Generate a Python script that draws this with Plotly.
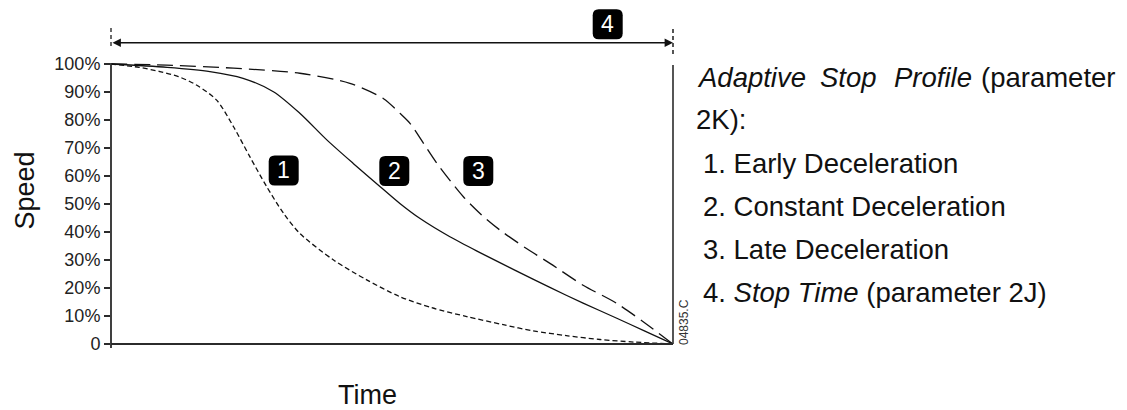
import plotly.graph_objects as go

# ---------------- data ----------------
time_early = [0, 5, 8.7, 12, 15.2, 18.8, 21.8, 24.7, 27.7, 30.7, 33.6, 39.6, 45.5, 51.4, 57, 63.3, 70, 75.1, 81, 87, 93, 100]
speed_early = [100, 98.8, 97.3, 95.5, 92.5, 87.1, 77.6, 66.9, 56.2, 46.7, 39.5, 30, 22.9, 16.9, 13, 9.8, 6.8, 4.7, 3, 1.6, 0.7, 0]

time_constant = [0, 10, 17.6, 23.5, 28.9, 33.6, 38.4, 43.1, 47.9, 51.4, 55, 60.3, 66, 72.2, 78, 84, 90, 95, 100]
speed_constant = [100, 98.8, 97.3, 94.9, 90.1, 82.4, 72.9, 64.5, 56.2, 50.2, 44.8, 38.3, 32.3, 26, 20.3, 14.6, 9.2, 4.6, 0]

time_late = [0, 9.9, 21.8, 33.6, 42.5, 48.5, 51.4, 53.2, 55.5, 58, 62.7, 66, 69.2, 74, 78.1, 84, 90, 95, 100]
speed_late = [100, 99.6, 98.5, 96.7, 93.1, 87.6, 82.4, 78.8, 72, 64.5, 52.6, 46, 40.7, 34, 28.8, 21, 14.5, 7.5, 0]

y_tick_vals = [0, 10, 20, 30, 40, 50, 60, 70, 80, 90, 100]
y_tick_text = ["0", "10%", "20%", "30%", "40%", "50%", "60%", "70%", "80%", "90%", "100%"]

badge_names = ["1", "2", "3", "4"]
legend_items = ["1. Early Deceleration", "2. Constant Deceleration", "3. Late Deceleration",
                "4. <i>Stop Time</i> (parameter 2J)"]

# ---------------- geometry ----------------
OFF = 8                    # the page body margin shifts the figure by 8 px
W, H = 1127 - OFF, 410 - OFF
PX_L, PX_R = 111, 673      # time 0 .. 100 (reference pixels)
PX_Y0, PX_Y100 = 344, 64   # speed 0 .. 100 (reference pixels)
SY = (PX_Y0 - PX_Y100) / 100.0
Y_MAX = (PX_Y0 - OFF) / SY  # top of plot area at figure pixel 0

def pxx(px):   # reference pixel -> paper x
    return (px - PX_L) / (PX_R - PX_L)

def pxy(py):   # reference pixel -> paper y
    return (PX_Y0 - py) / (PX_Y0 - OFF)

def dy(py):    # reference pixel -> data y
    return (PX_Y0 - py) / SY

FONT = "Liberation Sans, Arial, sans-serif"
INK = "#111111"
AX = "#2b2b2b"

fig = go.Figure()
fig.add_trace(go.Scatter(x=time_early, y=speed_early, mode="lines",
                         line=dict(color=INK, width=1.3, dash="5px,3px", shape="spline", smoothing=0.8),
                         hoverinfo="skip", showlegend=False))
fig.add_trace(go.Scatter(x=time_constant, y=speed_constant, mode="lines",
                         line=dict(color=INK, width=1.3, shape="spline", smoothing=0.8),
                         hoverinfo="skip", showlegend=False))
fig.add_trace(go.Scatter(x=time_late, y=speed_late, mode="lines",
                         line=dict(color=INK, width=1.3, dash="16px,7px", shape="spline", smoothing=0.8),
                         hoverinfo="skip", showlegend=False))

shapes = []
# axis lines
shapes.append(dict(type="line", xref="paper", yref="paper", x0=0, x1=0, y0=pxy(348), y1=pxy(63),
                   line=dict(color=AX, width=1.8)))
shapes.append(dict(type="line", xref="paper", yref="paper", x0=0, x1=1, y0=0, y1=0,
                   line=dict(color=AX, width=1.8)))
shapes.append(dict(type="line", xref="paper", yref="paper", x0=1, x1=1, y0=0, y1=pxy(65),
                   line=dict(color=AX, width=1.6)))
# dashed extension lines
shapes.append(dict(type="line", xref="paper", yref="paper", x0=0, x1=0, y0=pxy(46), y1=pxy(27),
                   line=dict(color=AX, width=1.4, dash="4px,3px")))
shapes.append(dict(type="line", xref="paper", yref="paper", x0=1, x1=1, y0=pxy(54), y1=pxy(27),
                   line=dict(color=AX, width=1.6, dash="4px,3px")))

# rounded badges
badge_px = [(283.7, 170.5), (394.3, 171), (478.3, 171), (607.7, 24.3)]
h, r = 15, 6
rr = (f"M {-h+r},{-h} L {h-r},{-h} Q {h},{-h} {h},{-h+r} L {h},{h-r} Q {h},{h} {h-r},{h} "
      f"L {-h+r},{h} Q {-h},{h} {-h},{h-r} L {-h},{-h+r} Q {-h},{-h} {-h+r},{-h} Z")
annotations = []
for name, (bx, by) in zip(badge_names, badge_px):
    shapes.append(dict(type="path", xref="paper", yref="paper", xsizemode="pixel", ysizemode="pixel",
                       xanchor=pxx(bx), yanchor=pxy(by), path=rr,
                       fillcolor="#000000", line=dict(width=0)))
    annotations.append(dict(xref="paper", yref="paper", x=pxx(bx), y=pxy(by), text=name,
                            showarrow=False, xanchor="center", yanchor="middle",
                            font=dict(family=FONT, size=23, color="white")))

# double-headed arrow (stop time)
annotations.append(dict(x=100, y=dy(42.7), ax=0, ay=dy(42.7), xref="x", yref="y", axref="x", ayref="y",
                        text="", showarrow=True, arrowhead=2, arrowside="end+start",
                        arrowsize=1.2, arrowwidth=1.4, arrowcolor=INK, standoff=0, startstandoff=0))

# axis titles
annotations.append(dict(xref="paper", yref="paper", x=pxx(24), y=pxy(190.5), text="Speed",
                        textangle=-90, showarrow=False, xanchor="center", yanchor="middle",
                        font=dict(family=FONT, size=27, color=INK)))
annotations.append(dict(xref="paper", yref="paper", x=pxx(367.5), y=pxy(395), text="Time",
                        showarrow=False, xanchor="center", yanchor="middle",
                        font=dict(family=FONT, size=27, color=INK)))

# drawing code
annotations.append(dict(xref="paper", yref="paper", x=pxx(684), y=pxy(322), text="04835.C",
                        textangle=-90, showarrow=False, xanchor="center", yanchor="middle",
                        font=dict(family=FONT, size=12, color="#333333")))

# right-hand text
TF = dict(family=FONT, size=27.5, color=INK)
line1 = [("<i>Adaptive</i>", 695, "left"), ("<i>Stop</i>", 818, "left"),
         ("<i>Profile</i>", 892, "left"), ("(parameter", 1118, "right")]
for txt, xx, anc in line1:
    annotations.append(dict(xref="paper", yref="paper", x=pxx(xx), y=pxy(77), text=txt,
                            showarrow=False, xanchor=anc, yanchor="middle", font=TF))
annotations.append(dict(xref="paper", yref="paper", x=pxx(694), y=pxy(119.5), text="2K):",
                        showarrow=False, xanchor="left", yanchor="middle", font=TF))
for i, txt in enumerate(legend_items):
    annotations.append(dict(xref="paper", yref="paper", x=pxx(701), y=pxy(163 + 43.3 * i), text=txt,
                            showarrow=False, xanchor="left", yanchor="middle", font=TF))

fig.update_layout(
    width=W, height=H, autosize=False,
    margin=dict(l=PX_L - OFF, r=(1127 - PX_R), t=0, b=(410 - PX_Y0), pad=0),
    paper_bgcolor="white", plot_bgcolor="white",
    showlegend=False,
    xaxis=dict(range=[0, 100], showgrid=False, zeroline=False, showline=False,
               showticklabels=False, ticks="", fixedrange=True),
    yaxis=dict(range=[0, Y_MAX], showgrid=False, zeroline=False, showline=False,
               tickmode="array", tickvals=y_tick_vals, ticktext=y_tick_text,
               ticks="outside", ticklen=6, tickwidth=1.5, tickcolor=AX,
               tickfont=dict(family=FONT, size=18, color="#222222"),
               automargin=False, fixedrange=True),
    shapes=shapes,
    annotations=annotations,
)

fig.write_html("out.html", config={"displayModeBar": False})
